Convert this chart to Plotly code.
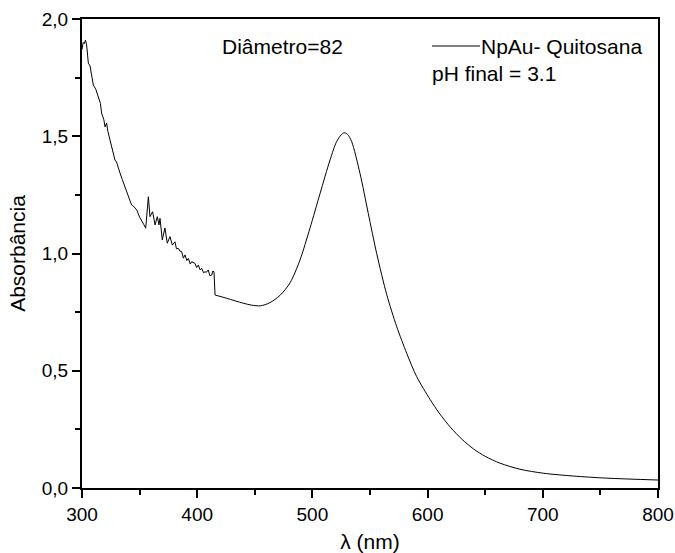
import plotly.graph_objects as go

# wavelength (nm) and absorbance
wavelength = [300, 301, 302, 303, 304, 305.5, 307, 309.8, 312, 314, 316, 317, 319, 320, 321.4,
              322.5, 324.3, 326, 328.6, 330, 331, 333, 335, 337.3, 340, 343, 345, 347.5, 350,
              351.8, 353.5, 355.3, 357.6, 359, 361.3, 363.4, 365.4, 366.8, 367.7, 369.7, 372,
              374, 376.4, 378.4, 380.7, 382, 383.6, 385, 386.5, 388, 389.4, 391, 392.3, 394,
              395.2, 398, 399.5, 401, 402.5, 403.9, 405.5, 406.8, 408, 409.6, 411, 412.6, 413.5,
              414.6, 415.5,
              425.6, 440, 447, 455, 463, 472, 480.6, 489.2, 497.9, 506.6, 515.3, 521, 525,
              527.7, 530.5, 534.1, 541.3, 548.5, 555.8, 564.5, 573.2, 581.9, 590.5, 602.1,
              610, 620, 630, 640, 650, 662.8, 680.2, 700.4, 726.5, 755.5, 800]
absorbance = [1.87, 1.90, 1.895, 1.91, 1.89, 1.812, 1.80, 1.719, 1.70, 1.669, 1.64, 1.599, 1.57,
              1.54, 1.556, 1.52, 1.484, 1.45, 1.399, 1.39, 1.37, 1.343, 1.315, 1.284, 1.249,
              1.207, 1.20, 1.186, 1.155, 1.136, 1.125, 1.108, 1.242, 1.157, 1.178, 1.122, 1.157,
              1.122, 1.150, 1.058, 1.109, 1.044, 1.072, 1.036, 1.050, 1.02, 1.022, 1.01, 1.008,
              0.98, 0.994, 0.97, 0.979, 0.955, 0.965, 0.958, 0.94, 0.951, 0.93, 0.937, 0.918,
              0.922, 0.92, 0.930, 0.905, 0.908, 0.925, 0.922, 0.823,
              0.809, 0.788, 0.780, 0.777, 0.790, 0.822, 0.875, 0.972, 1.108, 1.255, 1.399,
              1.477, 1.506, 1.515, 1.508, 1.477, 1.342, 1.171, 1.0, 0.825, 0.688, 0.574,
              0.475, 0.378, 0.320, 0.258, 0.207, 0.166, 0.135, 0.106, 0.080, 0.063, 0.051,
              0.042, 0.034]

series_name = "NpAu- Quitosana"
note_diameter = "Diâmetro=82"
note_ph = "pH final = 3.1"
x_title = "λ (nm)"
y_title = "Absorbância"

split = wavelength.index(415.5) + 1
FONT = "Liberation Sans, Arial, sans-serif"

fig = go.Figure()
# noisy part (raw, linear)
fig.add_trace(go.Scatter(x=wavelength[:split], y=absorbance[:split], mode="lines",
                         line=dict(color="black", width=1), name=series_name, showlegend=False))
# smooth band part
fig.add_trace(go.Scatter(x=wavelength[split - 1:], y=absorbance[split - 1:], mode="lines",
                         line=dict(color="black", width=1, shape="spline", smoothing=0.8),
                         name=series_name, showlegend=False))

axis_common = dict(showline=True, linecolor="black", linewidth=2, mirror=True,
                   ticks="outside", ticklen=8, tickwidth=1.5, tickcolor="black",
                   showgrid=False, zeroline=False,
                   tickfont=dict(family=FONT, size=19, color="black"),
                   automargin=False)

fig.update_xaxes(range=[300, 800], dtick=100, tick0=300,
                 minor=dict(dtick=50, ticks="outside", ticklen=5, tickcolor="black", tickwidth=1.5),
                 title=dict(text=x_title, font=dict(family=FONT, size=21, color="black"), standoff=11),
                 **axis_common)
fig.update_yaxes(range=[0, 2], dtick=0.5, tick0=0, tickformat=".1f",
                 minor=dict(dtick=0.25, ticks="outside", ticklen=5, tickcolor="black", tickwidth=1.5),
                 title=dict(text=y_title, font=dict(family=FONT, size=21, color="black"), standoff=10),
                 **axis_common)

# legend sample line + texts
fig.add_shape(type="line", xref="paper", yref="paper",
              x0=(432 - 82) / 576, x1=(480 - 82) / 576,
              y0=1 - (46 - 19) / 469, y1=1 - (46 - 19) / 469,
              line=dict(color="black", width=1))
fig.add_annotation(text=series_name, xref="paper", yref="paper",
                   x=(479 - 82) / 576, y=1 - (47 - 19) / 469, xanchor="left", yanchor="middle",
                   showarrow=False, font=dict(family=FONT, size=21, color="black"))
fig.add_annotation(text=note_ph, xref="paper", yref="paper",
                   x=(430 - 82) / 576, y=1 - (74 - 19) / 469, xanchor="left", yanchor="middle",
                   showarrow=False, font=dict(family=FONT, size=21, color="black"))
fig.add_annotation(text=note_diameter, xref="paper", yref="paper",
                   x=(220 - 82) / 576, y=1 - (47 - 19) / 469, xanchor="left", yanchor="middle",
                   showarrow=False, font=dict(family=FONT, size=21, color="black"))

fig.update_layout(width=675, height=553,
                  margin=dict(l=82, r=17, t=19, b=65),
                  paper_bgcolor="white", plot_bgcolor="white",
                  separators=", ",
                  font=dict(family=FONT, color="black"),
                  showlegend=False)

fig.write_html("out.html")
